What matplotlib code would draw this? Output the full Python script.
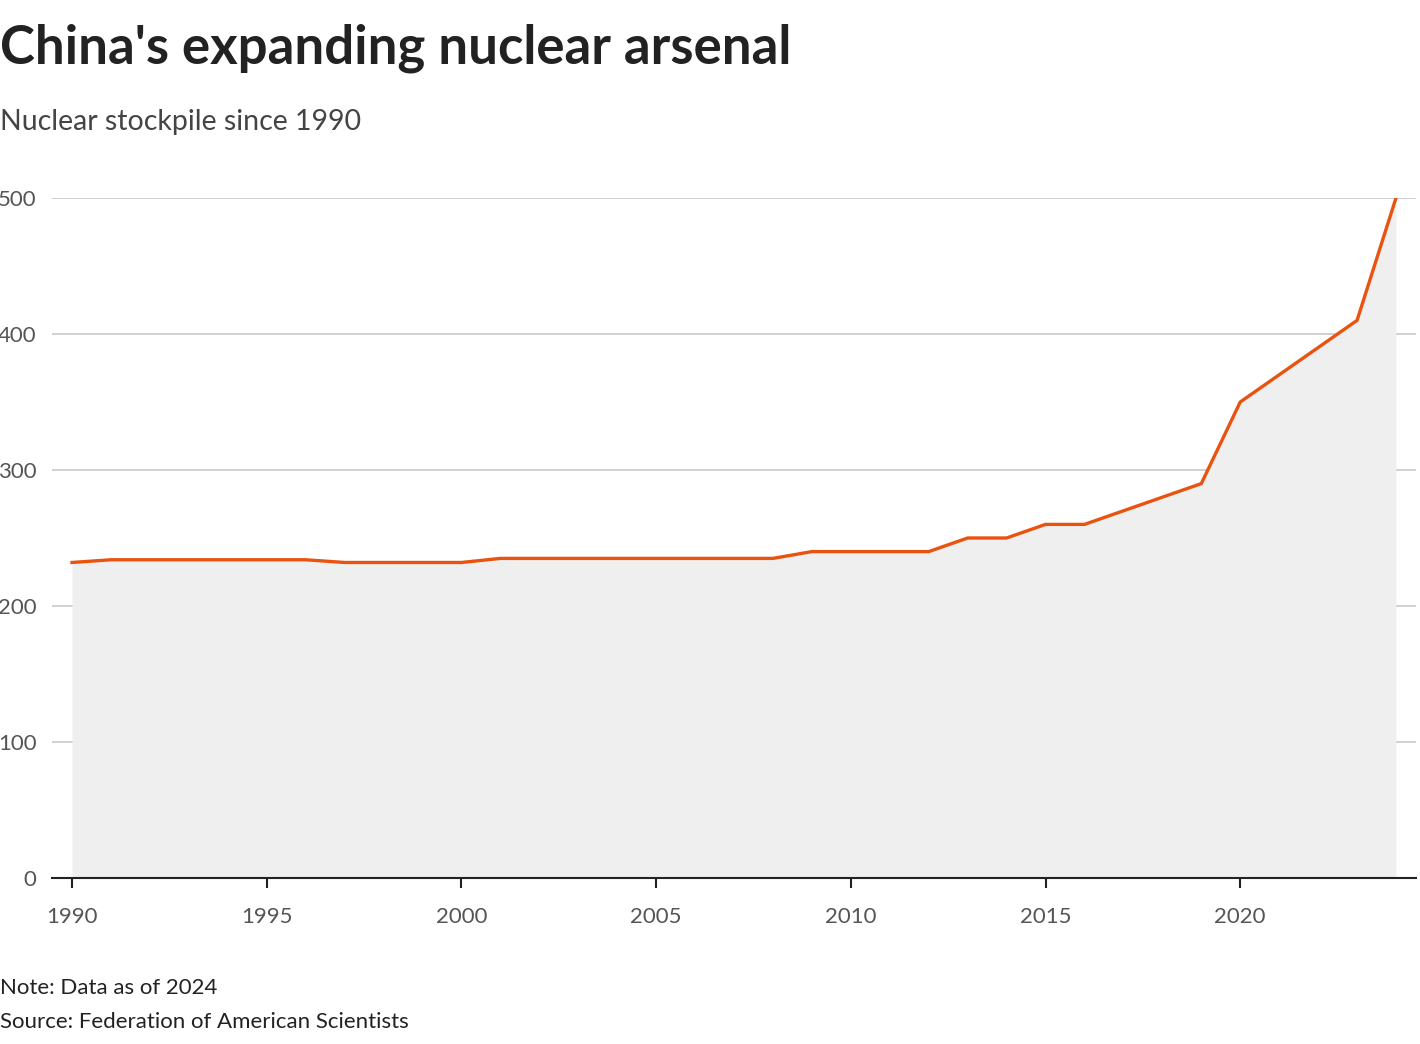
import matplotlib
matplotlib.use("Agg")
import matplotlib.pyplot as plt

years = list(range(1990, 2025))
stockpile = [232, 234, 234, 234, 234, 234, 234, 232, 232, 232, 232,
             235, 235, 235, 235, 235, 235, 235, 235,
             240, 240, 240, 240, 250, 250, 260, 260, 270, 280, 290,
             350, 370, 390, 410, 500]
y_ticks = [0, 100, 200, 300, 400, 500]
x_ticks = [1990, 1995, 2000, 2005, 2010, 2015, 2020]

title = "China's expanding nuclear arsenal"
subtitle = "Nuclear stockpile since 1990"
note = "Note: Data as of 2024"
source = "Source: Federation of American Scientists"

FONT = ["Lato", "DejaVu Sans"]
plt.rcParams['font.family'] = FONT

fig = plt.figure(figsize=(14.2, 10.44), dpi=100)
ax = fig.add_axes([52/1420, 1 - 878/1044, 1364/1420, 680/1044])

ax.fill_between(years, stockpile, 0, color="#efefef", lw=0, zorder=1)
ax.plot(years, stockpile, color="#e8540f", lw=2.4, zorder=3, solid_joinstyle="miter")

ax.set_xlim(1990 - 20/38.93, 2024 + 20/38.93)
ax.set_ylim(0, 500)
ax.set_yticks(y_ticks)
ax.set_xticks(x_ticks)
ax.set_yticklabels([str(v) for v in y_ticks])
ax.set_xticklabels([str(v) for v in x_ticks])
ax.grid(axis="y", color="#c4c4c4", lw=1.1, zorder=0)
ax.set_axisbelow(True)
for s in ["top", "right", "left"]:
    ax.spines[s].set_visible(False)
ax.spines["bottom"].set_color("#222222")
ax.spines["bottom"].set_linewidth(1.5)
ax.spines["bottom"].set_zorder(4)
ax.tick_params(axis="y", length=0, pad=11, labelsize=16, labelcolor="#555555")
ax.tick_params(axis="x", length=7, width=1.5, color="#222222", pad=14,
               labelsize=16, labelcolor="#555555")

fig.text(0.0, 1 - 48/1044, title, fontsize=38, fontweight="bold", color="#222222",
         va="center", ha="left")
fig.text(0.0, 1 - 122/1044, subtitle, fontsize=20.5, color="#444444",
         va="center", ha="left")
fig.text(0.0, 1 - 988/1044, note, fontsize=16, color="#222222", va="center", ha="left")
fig.text(0.0, 1 - 1022/1044, source, fontsize=16, color="#222222", va="center", ha="left")

fig.savefig("out.png", dpi=100, facecolor="white")
